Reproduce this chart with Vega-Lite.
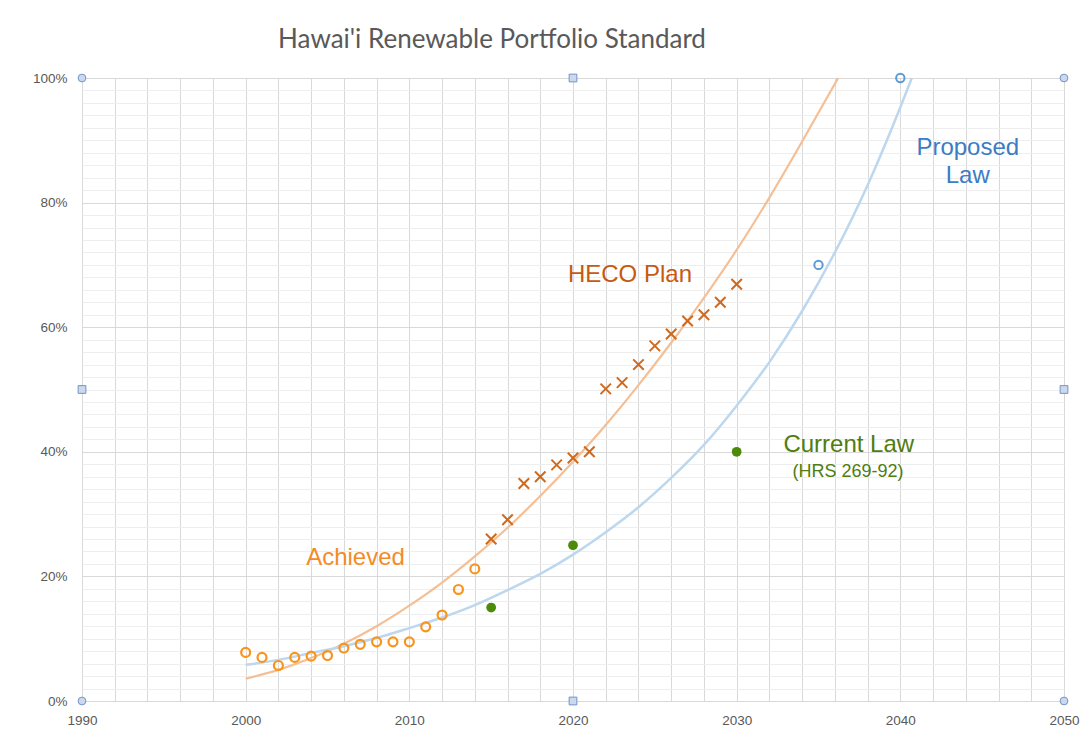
{
  "$schema": "https://vega.github.io/schema/vega-lite/v6.json",
  "width": 982,
  "height": 623,
  "autosize": "none",
  "padding": {"left": 82, "top": 78, "right": 19, "bottom": 40},
  "background": "white",
  "title": {"text": "Hawai'i Renewable Portfolio Standard", "font": "Lato", "fontSize": 26, "fontWeight": "normal", "color": "#595959", "anchor": "middle", "frame": "group", "dx": -81, "offset": 17},
  "datasets": {
    "achieved": [
      {"year": 2000, "pct": 7.8}, {"year": 2001, "pct": 7.0}, {"year": 2002, "pct": 5.7}, {"year": 2003, "pct": 7.0},
      {"year": 2004, "pct": 7.2}, {"year": 2005, "pct": 7.3}, {"year": 2006, "pct": 8.5}, {"year": 2007, "pct": 9.1},
      {"year": 2008, "pct": 9.5}, {"year": 2009, "pct": 9.5}, {"year": 2010, "pct": 9.5}, {"year": 2011, "pct": 11.9},
      {"year": 2012, "pct": 13.8}, {"year": 2013, "pct": 17.9}, {"year": 2014, "pct": 21.2}
    ],
    "heco": [
      {"year": 2015, "pct": 26.0}, {"year": 2016, "pct": 29.1}, {"year": 2017, "pct": 34.9}, {"year": 2018, "pct": 36.0},
      {"year": 2019, "pct": 37.9}, {"year": 2020, "pct": 39.0}, {"year": 2021, "pct": 40.0}, {"year": 2022, "pct": 50.1},
      {"year": 2023, "pct": 51.1}, {"year": 2024, "pct": 54.0}, {"year": 2025, "pct": 57.0}, {"year": 2026, "pct": 58.9},
      {"year": 2027, "pct": 61.0}, {"year": 2028, "pct": 62.0}, {"year": 2029, "pct": 64.0}, {"year": 2030, "pct": 66.9}
    ],
    "current": [
      {"year": 2015, "pct": 15.0}, {"year": 2020, "pct": 25.0}, {"year": 2030, "pct": 40.0}
    ],
    "proposed": [
      {"year": 2035, "pct": 70.0}, {"year": 2040, "pct": 100.0}
    ],
    "trendOrange": [
      {"year": 2000, "pct": 3.6}, {"year": 2002, "pct": 5.0}, {"year": 2004, "pct": 6.9}, {"year": 2006, "pct": 9.2},
      {"year": 2008, "pct": 12.0}, {"year": 2010, "pct": 15.3}, {"year": 2012, "pct": 19.0}, {"year": 2014, "pct": 23.2},
      {"year": 2016, "pct": 27.8}, {"year": 2018, "pct": 32.9}, {"year": 2020, "pct": 38.4}, {"year": 2022, "pct": 44.3},
      {"year": 2024, "pct": 50.7}, {"year": 2026, "pct": 57.5}, {"year": 2028, "pct": 64.7}, {"year": 2030, "pct": 72.4},
      {"year": 2032, "pct": 80.8}, {"year": 2034, "pct": 89.8}, {"year": 2036.2, "pct": 100.0}
    ],
    "trendBlue": [
      {"year": 2000, "pct": 5.8}, {"year": 2002, "pct": 6.6}, {"year": 2004, "pct": 7.7}, {"year": 2006, "pct": 8.8},
      {"year": 2008, "pct": 10.1}, {"year": 2010, "pct": 11.7}, {"year": 2012, "pct": 13.4}, {"year": 2014, "pct": 15.4},
      {"year": 2016, "pct": 17.8}, {"year": 2018, "pct": 20.4}, {"year": 2020, "pct": 23.5}, {"year": 2022, "pct": 27.1},
      {"year": 2024, "pct": 31.1}, {"year": 2026, "pct": 35.8}, {"year": 2028, "pct": 41.1}, {"year": 2030, "pct": 47.4},
      {"year": 2032, "pct": 54.4}, {"year": 2034, "pct": 62.6}, {"year": 2036, "pct": 72.0}, {"year": 2038, "pct": 82.8},
      {"year": 2040, "pct": 95.3}, {"year": 2040.7, "pct": 100.0}
    ],
    "labels": [
      {"year": 2023.48, "pct": 68.4, "text": "HECO Plan", "color": "#c55a11", "size": 24},
      {"year": 2006.71, "pct": 22.95, "text": "Achieved", "color": "#f28c28", "size": 24},
      {"year": 2036.85, "pct": 41.1, "text": "Current Law", "color": "#4f7d0f", "size": 24},
      {"year": 2036.8, "pct": 36.8, "text": "(HRS 269-92)", "color": "#4f7d0f", "size": 18},
      {"year": 2044.12, "pct": 88.7, "text": "Proposed", "color": "#3c7cc4", "size": 24},
      {"year": 2044.12, "pct": 84.2, "text": "Law", "color": "#3c7cc4", "size": 24}
    ],
    "handles": [
      {"year": 1990, "pct": 0, "kind": "circle"}, {"year": 1990, "pct": 100, "kind": "circle"},
      {"year": 2050, "pct": 0, "kind": "circle"}, {"year": 2050, "pct": 100, "kind": "circle"},
      {"year": 2020, "pct": 0, "kind": "square"}, {"year": 2020, "pct": 100, "kind": "square"},
      {"year": 1990, "pct": 50, "kind": "square"}, {"year": 2050, "pct": 50, "kind": "square"}
    ]
  },
  "encoding": {
    "x": {
      "field": "year", "type": "quantitative",
      "scale": {"domain": [1990, 2050], "nice": false, "zero": false},
      "axis": {
        "title": null,
        "values": [1990,1992,1994,1996,1998,2000,2002,2004,2006,2008,2010,2012,2014,2016,2018,2020,2022,2024,2026,2028,2030,2032,2034,2036,2038,2040,2042,2044,2046,2048,2050],
        "format": "d",
        "labelExpr": "datum.value % 10 === 0 ? datum.label : ''",
        "labelOverlap": false,
        "labelFlush": false,
        "labelPadding": 12,
        "grid": true,
        "gridColor": "#d9d9d9",
        "gridWidth": 1,
        "domain": false,
        "ticks": false
      }
    },
    "y": {
      "field": "pct", "type": "quantitative",
      "scale": {"domain": [0, 100], "nice": false, "zero": true},
      "axis": {
        "title": null,
        "values": [0,2,4,6,8,10,12,14,16,18,20,22,24,26,28,30,32,34,36,38,40,42,44,46,48,50,52,54,56,58,60,62,64,66,68,70,72,74,76,78,80,82,84,86,88,90,92,94,96,98,100],
        "labelExpr": "datum.value % 20 === 0 ? datum.value + '%' : ''",
        "labelOverlap": false,
        "labelFlush": false,
        "labelPadding": 15,
        "grid": true,
        "gridColor": {"condition": {"test": "datum.value % 20 === 0", "value": "#d9d9d9"}, "value": "#eeeeee"},
        "gridWidth": 1,
        "domain": false,
        "ticks": false
      }
    }
  },
  "layer": [
    {"data": {"name": "trendOrange"}, "mark": {"type": "line", "color": "#f5bf95", "strokeWidth": 2.2, "interpolate": "monotone"}},
    {"data": {"name": "trendBlue"}, "mark": {"type": "line", "color": "#bcd7ee", "strokeWidth": 2.5, "interpolate": "monotone"}},
    {"data": {"name": "achieved"}, "mark": {"type": "point", "shape": "circle", "filled": false, "stroke": "#f7941e", "strokeWidth": 2.2, "size": 80, "opacity": 1}},
    {"data": {"name": "heco"}, "mark": {"type": "point", "shape": "M-1,-1L1,1M-1,1L1,-1", "filled": false, "stroke": "#d0691b", "strokeWidth": 2, "size": 110, "opacity": 1}},
    {"data": {"name": "current"}, "mark": {"type": "point", "shape": "circle", "filled": true, "color": "#4c8a0a", "size": 95, "opacity": 1}},
    {"data": {"name": "proposed"}, "mark": {"type": "point", "shape": "circle", "filled": false, "stroke": "#5b9bd5", "strokeWidth": 2, "size": 70, "opacity": 1}},
    {"data": {"name": "labels"}, "mark": {"type": "text", "font": "Liberation Sans", "align": "center", "baseline": "middle"},
     "encoding": {"text": {"field": "text"}, "color": {"field": "color", "type": "nominal", "scale": null}, "size": {"field": "size", "type": "quantitative", "scale": null}}},
    {"data": {"name": "handles"}, "mark": {"type": "point", "filled": true, "fill": "#cad9ef", "stroke": "#7393c6", "strokeWidth": 1, "size": 60, "opacity": 1},
     "encoding": {"shape": {"field": "kind", "type": "nominal", "scale": null}}}
  ],
  "config": {
    "view": {"stroke": "#a0a0a0", "strokeWidth": 1},
    "axis": {"labelFont": "Liberation Sans", "labelFontSize": 13.5, "labelColor": "#595959"}
  }
}
